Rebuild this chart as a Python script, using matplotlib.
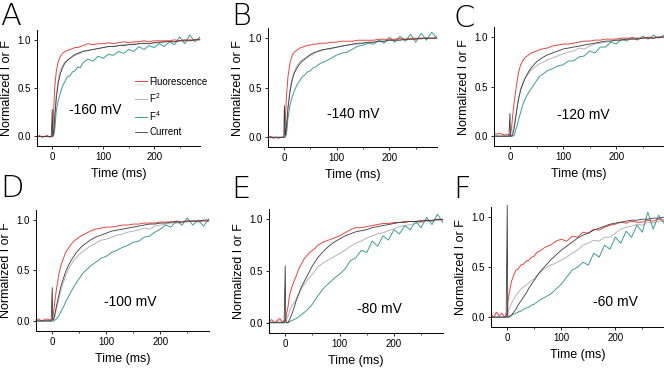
import numpy as np
import matplotlib
matplotlib.use('Agg')
import matplotlib.pyplot as plt
from matplotlib.ticker import MultipleLocator, FixedLocator, FixedFormatter

plt.rcParams['font.family'] = ['Liberation Sans', 'DejaVu Sans']
plt.rcParams['mathtext.fontset'] = 'custom'
plt.rcParams['mathtext.rm'] = 'Liberation Sans'

# time points (ms)
t = [-30, -25, -20, -15, -10, -5, -2, 0, 1, 3, 5, 8, 12, 16, 20, 25, 30, 35, 40, 45, 50, 55, 60,
     70, 80, 90, 100, 110, 120, 130, 140, 150, 160, 170, 180, 190, 200, 210, 220, 230, 240, 250,
     260, 270, 280, 290]

z7 = [0.0] * 7

# A  -160 mV
a_fluo = [0.00, 0.01, -0.01, 0.00, 0.01, -0.01, 0.00,
          0.00, 0.03, 0.30, 0.52,
          0.68, 0.78, 0.83, 0.86, 0.88, 0.89, 0.90, 0.91, 0.92, 0.92, 0.93, 0.94,
          0.96, 0.95, 0.96, 0.96, 0.97, 0.96, 0.97, 0.98, 0.97, 0.98, 0.98, 0.99, 0.98, 0.99,
          0.99, 0.99, 0.99, 1.00, 0.99, 1.00, 1.00, 1.00, 1.01]
a_f2 = z7 + [0.00, 0.00, 0.08, 0.25,
             0.44, 0.60, 0.68, 0.73, 0.77, 0.79, 0.81, 0.83, 0.84, 0.85, 0.86, 0.88,
             0.89, 0.90, 0.91, 0.92, 0.93, 0.93, 0.94, 0.95, 0.95, 0.96, 0.96, 0.97, 0.96, 0.97,
             0.98, 0.98, 0.99, 0.98, 0.99, 1.00, 0.99, 1.00, 1.00]
a_f4 = z7 + [0.00, 0.00, 0.02, 0.08,
             0.27, 0.38, 0.45, 0.52, 0.57, 0.62, 0.63, 0.67, 0.68, 0.72, 0.71, 0.76,
             0.80, 0.78, 0.83, 0.81, 0.85, 0.84, 0.88, 0.86, 0.90, 0.88, 0.93, 0.90, 0.94, 0.92,
             0.96, 0.93, 0.98, 0.95, 1.03, 0.96, 1.05, 0.98, 1.03]
a_cur = z7 + [0.28, 0.00, 0.04, 0.20,
              0.40, 0.56, 0.65, 0.71, 0.76, 0.79, 0.81, 0.83, 0.85, 0.86, 0.87, 0.88,
              0.89, 0.90, 0.91, 0.92, 0.93, 0.93, 0.94, 0.94, 0.95, 0.95, 0.96, 0.96, 0.96, 0.97,
              0.97, 0.98, 0.98, 0.98, 0.99, 0.99, 0.99, 1.00, 1.00]

# B  -140 mV
b_fluo = [0.00, 0.01, -0.01, 0.00, -0.01, 0.00, 0.00,
          0.00, 0.02, 0.20, 0.42,
          0.62, 0.76, 0.83, 0.86, 0.88, 0.90, 0.91, 0.92, 0.93, 0.93, 0.94, 0.94,
          0.95, 0.95, 0.96, 0.96, 0.97, 0.97, 0.97, 0.98, 0.98, 0.98, 0.98, 0.99, 0.99, 0.99,
          0.99, 1.00, 0.99, 1.00, 1.00, 1.00, 1.00, 1.00, 1.00]
b_f2 = z7 + [0.00, 0.00, 0.04, 0.14,
             0.33, 0.50, 0.60, 0.67, 0.72, 0.76, 0.78, 0.80, 0.82, 0.84, 0.83, 0.86,
             0.87, 0.89, 0.89, 0.91, 0.92, 0.93, 0.94, 0.94, 0.95, 0.96, 0.96, 0.97, 0.97, 0.98,
             0.98, 0.99, 0.98, 0.99, 1.00, 0.99, 1.01, 1.00, 1.02]
b_f4 = z7 + [0.00, 0.00, 0.00, 0.03,
             0.20, 0.33, 0.41, 0.47, 0.53, 0.57, 0.61, 0.63, 0.66, 0.67, 0.70, 0.71,
             0.75, 0.77, 0.80, 0.83, 0.85, 0.86, 0.89, 0.92, 0.93, 0.95, 0.94, 0.98, 0.95, 1.01,
             0.96, 1.02, 0.97, 1.04, 0.96, 1.05, 0.98, 1.06, 1.00]
b_cur = z7 + [0.00, 0.32, 0.02, 0.10,
              0.30, 0.47, 0.58, 0.65, 0.70, 0.74, 0.77, 0.79, 0.81, 0.83, 0.85, 0.86,
              0.88, 0.89, 0.90, 0.91, 0.92, 0.93, 0.94, 0.95, 0.95, 0.96, 0.96, 0.97, 0.97, 0.98,
              0.98, 0.98, 0.99, 0.99, 0.99, 1.00, 1.00, 1.00, 1.00]

# C  -120 mV
c_fluo = [0.03, 0.02, 0.03, 0.02, 0.01, 0.02, 0.01,
          0.01, 0.02, 0.08, 0.20,
          0.35, 0.50, 0.64, 0.72, 0.77, 0.80, 0.82, 0.84, 0.85, 0.86, 0.87, 0.88,
          0.89, 0.91, 0.92, 0.93, 0.93, 0.94, 0.95, 0.96, 0.96, 0.97, 0.97, 0.98, 0.98, 0.98,
          0.99, 0.99, 0.99, 0.99, 0.99, 1.00, 0.99, 1.00, 1.00]
c_f2 = z7 + [0.00, 0.00, 0.01, 0.04,
             0.12, 0.25, 0.38, 0.48, 0.55, 0.60, 0.63, 0.67, 0.69, 0.71, 0.73, 0.74,
             0.77, 0.79, 0.81, 0.83, 0.85, 0.86, 0.89, 0.88, 0.91, 0.93, 0.94, 0.95, 0.96, 0.97,
             0.97, 0.98, 0.98, 0.99, 0.99, 1.00, 0.99, 1.00, 1.00]
c_f4 = z7 + [0.00, 0.00, 0.00, 0.00,
             0.01, 0.08, 0.16, 0.24, 0.33, 0.39, 0.44, 0.48, 0.52, 0.56, 0.60, 0.62,
             0.66, 0.68, 0.71, 0.72, 0.76, 0.76, 0.80, 0.81, 0.86, 0.84, 0.90, 0.90, 0.95, 0.93,
             0.98, 0.96, 1.00, 0.97, 1.01, 0.98, 1.02, 0.99, 1.02]
c_cur = z7 + [0.23, 0.00, 0.00, 0.01,
              0.08, 0.23, 0.37, 0.46, 0.54, 0.60, 0.65, 0.69, 0.72, 0.75, 0.77, 0.79,
              0.82, 0.84, 0.86, 0.88, 0.89, 0.90, 0.91, 0.92, 0.93, 0.94, 0.95, 0.96, 0.96, 0.97,
              0.97, 0.98, 0.98, 0.98, 0.99, 0.99, 0.99, 1.00, 1.00]

# D  -100 mV
d_fluo = [0.01, 0.02, 0.00, 0.01, 0.02, 0.01, 0.01,
          0.01, 0.03, 0.10, 0.20,
          0.32, 0.45, 0.55, 0.61, 0.68, 0.72, 0.76, 0.79, 0.81, 0.83, 0.85, 0.86,
          0.89, 0.91, 0.92, 0.93, 0.93, 0.94, 0.95, 0.95, 0.96, 0.96, 0.97, 0.97, 0.97, 0.98,
          0.98, 0.98, 0.99, 0.98, 0.99, 0.99, 0.99, 0.99, 0.99]
d_f2 = z7 + [0.00, 0.00, 0.02, 0.05,
             0.12, 0.21, 0.30, 0.37, 0.45, 0.51, 0.56, 0.60, 0.63, 0.66, 0.68, 0.70,
             0.74, 0.77, 0.80, 0.81, 0.83, 0.85, 0.86, 0.88, 0.89, 0.90, 0.92, 0.91, 0.94, 0.95,
             0.96, 0.97, 0.97, 0.98, 0.98, 0.99, 0.98, 0.99, 0.99]
d_f4 = z7 + [0.00, 0.00, 0.00, 0.01,
             0.02, 0.05, 0.09, 0.13, 0.19, 0.24, 0.29, 0.34, 0.38, 0.42, 0.46, 0.49,
             0.54, 0.58, 0.62, 0.64, 0.68, 0.70, 0.73, 0.75, 0.78, 0.79, 0.83, 0.84, 0.88, 0.91,
             0.95, 0.93, 0.99, 0.95, 1.02, 0.95, 1.00, 0.94, 1.01]
d_cur = z7 + [0.33, 0.01, 0.02, 0.07,
              0.15, 0.25, 0.34, 0.41, 0.49, 0.55, 0.60, 0.64, 0.68, 0.71, 0.74, 0.76,
              0.80, 0.83, 0.85, 0.87, 0.89, 0.90, 0.91, 0.92, 0.93, 0.94, 0.95, 0.96, 0.96, 0.97,
              0.97, 0.98, 0.98, 0.98, 0.99, 0.99, 0.99, 1.00, 1.00]

# E  -80 mV
e_fluo = [0.01, 0.03, 0.00, 0.02, 0.04, 0.01, 0.02,
          0.01, 0.04, 0.10, 0.15,
          0.27, 0.34, 0.40, 0.45, 0.52, 0.57, 0.62, 0.65, 0.68, 0.70, 0.72, 0.75,
          0.78, 0.80, 0.82, 0.84, 0.87, 0.90, 0.92, 0.92, 0.93, 0.94, 0.95, 0.96, 0.96, 0.97,
          0.97, 0.98, 0.98, 0.98, 0.99, 0.99, 0.99, 1.00, 1.00]
e_f2 = [0.00, 0.01, 0.00, 0.01, 0.02, 0.00, 0.01,
        0.00, 0.01, 0.04, 0.06,
        0.11, 0.16, 0.19, 0.23, 0.28, 0.33, 0.37, 0.41, 0.44, 0.47, 0.50, 0.54,
        0.58, 0.61, 0.64, 0.67, 0.70, 0.74, 0.77, 0.79, 0.82, 0.84, 0.86, 0.87, 0.89, 0.91,
        0.93, 0.94, 0.95, 0.96, 0.97, 0.98, 0.98, 0.99, 0.99]
e_f4 = z7 + [0.00, 0.00, 0.00, 0.00,
             0.01, 0.02, 0.03, 0.04, 0.06, 0.08, 0.10, 0.12, 0.15, 0.18, 0.22, 0.26,
             0.33, 0.38, 0.43, 0.47, 0.52, 0.60, 0.63, 0.70, 0.68, 0.79, 0.74, 0.84, 0.80, 0.90,
             0.86, 0.94, 0.90, 0.98, 0.92, 1.02, 0.95, 1.05, 0.97]
e_cur = z7 + [0.55, 0.02, 0.00, 0.00,
              0.03, 0.08, 0.14, 0.21, 0.28, 0.35, 0.40, 0.45, 0.50, 0.55, 0.59, 0.63,
              0.69, 0.74, 0.78, 0.81, 0.84, 0.86, 0.88, 0.89, 0.90, 0.92, 0.93, 0.94, 0.95, 0.96,
              0.97, 0.97, 0.98, 0.98, 0.98, 0.99, 0.99, 1.00, 1.00]

# F  -60 mV
f_fluo = [0.03, 0.00, 0.05, 0.01, 0.04, 0.00, 0.03,
          0.02, 0.15, 0.22, 0.28,
          0.36, 0.42, 0.47, 0.48, 0.52, 0.53, 0.56, 0.57, 0.60, 0.61, 0.65, 0.66,
          0.70, 0.72, 0.76, 0.78, 0.76, 0.81, 0.80, 0.85, 0.84, 0.88, 0.87, 0.90, 0.92, 0.93,
          0.95, 0.94, 0.96, 0.95, 0.95, 0.97, 0.96, 0.98, 0.97]
f_f2 = z7 + [0.00, 0.05, 0.08, 0.10,
             0.14, 0.18, 0.22, 0.24, 0.28, 0.30, 0.32, 0.34, 0.37, 0.38, 0.42, 0.44,
             0.49, 0.52, 0.54, 0.57, 0.60, 0.64, 0.67, 0.72, 0.74, 0.77, 0.76, 0.80, 0.80, 0.84,
             0.88, 0.90, 0.91, 0.93, 0.92, 0.95, 0.94, 0.96, 0.96]
f_f4 = z7 + [0.00, 0.00, 0.01, 0.01,
             0.02, 0.03, 0.04, 0.05, 0.06, 0.08, 0.09, 0.10, 0.12, 0.13, 0.15, 0.17,
             0.20, 0.23, 0.28, 0.33, 0.40, 0.47, 0.50, 0.55, 0.52, 0.64, 0.60, 0.72, 0.68, 0.80,
             0.74, 0.86, 0.80, 0.92, 0.85, 1.05, 0.88, 1.02, 0.94]
f_cur = z7 + [1.12, 0.00, 0.00, 0.01,
              0.02, 0.05, 0.08, 0.12, 0.16, 0.20, 0.24, 0.29, 0.33, 0.37, 0.41, 0.45,
              0.51, 0.57, 0.62, 0.67, 0.71, 0.75, 0.79, 0.82, 0.84, 0.87, 0.89, 0.91, 0.93, 0.94,
              0.95, 0.96, 0.97, 0.97, 0.98, 0.98, 0.99, 0.99, 1.00]

letters = ['A', 'B', 'C', 'D', 'E', 'F']
voltages = ['-160 mV', '-140 mV', '-120 mV', '-100 mV', '-80 mV', '-60 mV']
yticks = [0.0, 0.5, 1.0]
ytick_labels = ['0.0', '0.5', '1.0']

panels = [
    (a_fluo, a_f2, a_f4, a_cur),
    (b_fluo, b_f2, b_f4, b_cur),
    (c_fluo, c_f2, c_f4, c_cur),
    (d_fluo, d_f2, d_f4, d_cur),
    (e_fluo, e_f2, e_f4, e_cur),
    (f_fluo, f_f2, f_f4, f_cur),
]

# axes rectangles (figure fraction), letter positions and voltage label positions
rects = [[0.0557, 0.603, 0.2455, 0.315], [0.4036, 0.600, 0.2545, 0.323],
         [0.744, 0.603, 0.256, 0.323], [0.0542, 0.1005, 0.2605, 0.329],
         [0.405, 0.095, 0.262, 0.337], [0.7395, 0.111, 0.2605, 0.326]]
letter_xy = [(0.0, 0.995), (0.349, 0.995), (0.683, 0.99),
             (0.0, 0.528), (0.349, 0.525), (0.683, 0.525)]
volt_xy = [(84, 0.27), (131, 0.24), (138, 0.21), (144, 0.19), (173, 0.13), (200, 0.15)]

red = '#e8453f'
grey = '#b4b4b4'
teal = '#3a9c9c'
dark = '#3a3a3a'

fig = plt.figure(figsize=(6.64, 3.68), dpi=100)

for i, (fl, f2, f4, cur) in enumerate(panels):
    ax = fig.add_axes(rects[i])
    ax.plot(t, f2, color=grey, lw=0.7, label='F$^{2}$')
    ax.plot(t, f4, color=teal, lw=0.7, label='F$^{4}$')
    ax.plot(t, fl, color=red, lw=0.7, label='Fluorescence')
    ax.plot(t, cur, color=dark, lw=0.6, label='Current', clip_on=False)
    ax.set_xlim(-30, 290)
    ax.set_ylim(-0.1, 1.1)
    ax.set_xticks([0, 100, 200])
    ax.xaxis.set_minor_locator(MultipleLocator(50))
    ax.yaxis.set_major_locator(FixedLocator(yticks))
    ax.yaxis.set_major_formatter(FixedFormatter(ytick_labels))
    for s in ['top', 'right']:
        ax.spines[s].set_visible(False)
    for s in ['left', 'bottom']:
        ax.spines[s].set_linewidth(0.7)
    ax.tick_params(which='major', length=2.5, width=0.6, labelsize=7, pad=2)
    ax.tick_params(which='minor', length=1.5, width=0.5)
    ax.set_xlabel('Time (ms)', fontsize=9, labelpad=4)
    ax.set_ylabel('Normalized I or F', fontsize=9, labelpad=3)
    ax.text(volt_xy[i][0], volt_xy[i][1], voltages[i], fontsize=10, ha='center', va='center')
    fig.text(letter_xy[i][0], letter_xy[i][1], letters[i], fontsize=22, ha='left', va='top',
             family='DejaVu Sans', fontweight='light')
    if i == 0:
        h, l = ax.get_legend_handles_labels()
        order = [2, 0, 1, 3]
        ax.legend([h[k] for k in order], [l[k] for k in order], loc='upper left',
                  bbox_to_anchor=(0.6, 0.6), frameon=False, fontsize=7, handlelength=1.3,
                  handletextpad=0.2, labelspacing=0.45, borderpad=0, borderaxespad=0)

fig.savefig('out.png', dpi=100)
